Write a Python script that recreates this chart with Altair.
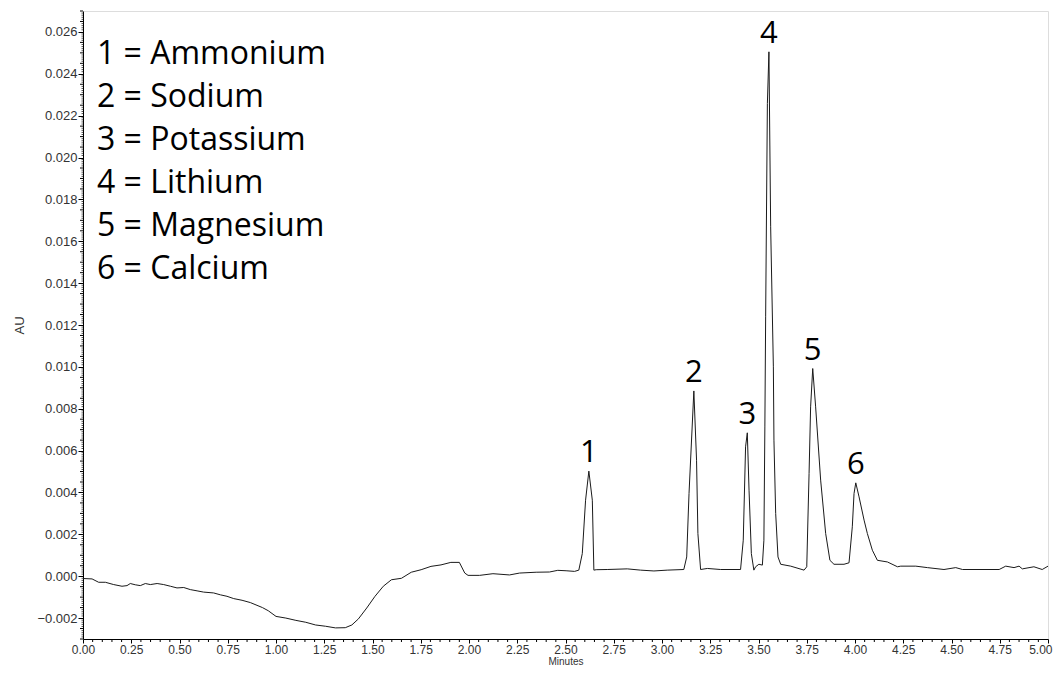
import altair as alt
import pandas as pd

# ---- chromatogram trace (minutes, AU) ----
time_min = [
    0.000, 0.047, 0.081, 0.116, 0.159, 0.202, 0.228, 0.245, 0.271, 0.297,
    0.323, 0.349, 0.384, 0.418, 0.453, 0.487, 0.522, 0.556, 0.591, 0.625,
    0.677, 0.712, 0.746, 0.781, 0.824, 0.867, 0.930, 0.960, 1.000, 1.051,
    1.103, 1.154, 1.205, 1.256, 1.308, 1.359, 1.393, 1.427, 1.470, 1.513,
    1.556, 1.598, 1.650, 1.701, 1.752, 1.803, 1.855, 1.906, 1.950, 1.978,
    1.995, 2.055, 2.124, 2.210, 2.262, 2.348, 2.417, 2.460, 2.503, 2.547,
    2.569, 2.587, 2.604, 2.621, 2.639, 2.647, 2.659, 2.716, 2.820, 2.889,
    2.958, 3.027, 3.113, 3.128, 3.140, 3.165, 3.179, 3.186, 3.200, 3.235,
    3.304, 3.407, 3.421, 3.433, 3.442, 3.451, 3.463, 3.476, 3.485, 3.502,
    3.520, 3.528, 3.533, 3.537, 3.546, 3.554, 3.563, 3.577, 3.580, 3.589,
    3.601, 3.615, 3.667, 3.736, 3.750, 3.762, 3.770, 3.781, 3.796, 3.822,
    3.848, 3.870, 3.891, 3.943, 3.969, 3.986, 3.995, 4.004, 4.021, 4.047,
    4.064, 4.090, 4.116, 4.168, 4.220, 4.237, 4.315, 4.375, 4.461, 4.522,
    4.557, 4.747, 4.781, 4.824, 4.850, 4.867, 4.927, 4.970, 5.000,
]
absorbance = [
    -0.00011, -0.00013, -0.00029, -0.00029, -0.00040, -0.00048, -0.00045, -0.00035, -0.00041, -0.00045,
    -0.00035, -0.00040, -0.00035, -0.00040, -0.00048, -0.00056, -0.00054, -0.00064, -0.00070, -0.00076,
    -0.00080, -0.00089, -0.00096, -0.00107, -0.00115, -0.00126, -0.00150, -0.00165, -0.00192, -0.00200,
    -0.00211, -0.00220, -0.00233, -0.00239, -0.00247, -0.00246, -0.00233, -0.00204, -0.00152, -0.00096,
    -0.00048, -0.00017, -0.00010, 0.00019, 0.00031, 0.00047, 0.00054, 0.00066, 0.00066, 0.00015,
    0.00004, 0.00004, 0.00012, 0.00006, 0.00015, 0.00019, 0.00020, 0.00028, 0.00026, 0.00023,
    0.00029, 0.00108, 0.00363, 0.00502, 0.00363, 0.00029, 0.00031, 0.00032, 0.00035, 0.00029,
    0.00025, 0.00029, 0.00032, 0.00092, 0.00395, 0.00885, 0.00554, 0.00204, 0.00032, 0.00037,
    0.00032, 0.00032, 0.00172, 0.00618, 0.00685, 0.00411, 0.00108, 0.00029, 0.00045, 0.00057,
    0.00053, 0.00172, 0.00713, 0.01239, 0.02258, 0.02505, 0.01669, 0.01000, 0.00650, 0.00300,
    0.00092, 0.00057, 0.00048, 0.00029, 0.00045, 0.00491, 0.00809, 0.00992, 0.00809, 0.00459,
    0.00204, 0.00076, 0.00057, 0.00057, 0.00064, 0.00236, 0.00395, 0.00446, 0.00379, 0.00268,
    0.00204, 0.00124, 0.00076, 0.00068, 0.00045, 0.00048, 0.00048, 0.00041, 0.00032, 0.00041,
    0.00032, 0.00032, 0.00048, 0.00041, 0.00048, 0.00035, 0.00045, 0.00032, 0.00048,
]

# ---- peaks ----
peak_ids = ["1", "2", "3", "4", "5", "6"]
peak_names = ["Ammonium", "Sodium", "Potassium", "Lithium", "Magnesium", "Calcium"]
peak_time = [2.621, 3.165, 3.442, 3.554, 3.781, 4.004]
peak_height = [0.00502, 0.00885, 0.00685, 0.02505, 0.00992, 0.00446]

# ---- axes ----
x_domain = [0.0, 5.0]
y_domain = [-0.003, 0.027]
x_major = [round(i * 0.25, 2) for i in range(0, 21)]
y_major = [round(-0.002 + i * 0.002, 3) for i in range(0, 15)]
x_minor = [round(i * 0.05, 2) for i in range(0, 101) if i % 5 != 0]
y_mid = [round(-0.003 + i * 0.0005, 4) for i in range(0, 61) if (i - 2) % 4 != 0]
y_small = [round(-0.003 + i * 0.0001, 4) for i in range(0, 301) if i % 5 != 0]

FONT = "Liberation Sans"
BIG_FONT = "Open Sans"
TXT = "#333333"

trace = pd.DataFrame({"t": time_min, "au": absorbance})
peaks = pd.DataFrame({"id": peak_ids, "t": peak_time, "au": peak_height})
legend_text = "\n".join(f"{i} = {n}" for i, n in zip(peak_ids, peak_names))
legend_df = pd.DataFrame({"txt": [legend_text]})
xminor_df = pd.DataFrame({"t": x_minor})
ymid_df = pd.DataFrame({"au": y_mid})
ysmall_df = pd.DataFrame({"au": y_small})

last_x = "datum.value >= 4.999"
x_axis = alt.Axis(
    title="Minutes",
    values=x_major,
    format=".2f",
    tickSize=4,
    labelOverlap=False,
    labelFlush=False,
    labelBound=False,
    labelAlign={"condition": {"test": last_x, "value": "right"}, "value": "center"},
    labelOffset={"condition": {"test": last_x, "value": 4}, "value": 0},
    labelFont=FONT, labelFontSize=12, labelColor=TXT, labelPadding=1,
    titleFont=FONT, titleFontSize=10, titleFontWeight="normal", titleColor=TXT,
    titleY=27, titleBaseline="bottom",
    domainColor="#000000", tickColor="#000000", grid=False,
)
y_axis = alt.Axis(
    title="AU",
    values=y_major,
    format=".3f",
    tickSize=5,
    labelOverlap=False,
    labelFlush=False,
    labelBound=False,
    labelFont=FONT, labelFontSize=13, labelColor=TXT, labelPadding=1,
    titleFont=FONT, titleFontSize=13, titleFontWeight="normal", titleColor=TXT,
    titlePadding=10,
    domainColor="#000000", tickColor="#000000", grid=False,
)

x_enc = alt.X("t:Q", scale=alt.Scale(domain=x_domain, nice=False, zero=False), axis=x_axis)
y_enc = alt.Y("au:Q", scale=alt.Scale(domain=y_domain, nice=False, zero=False), axis=y_axis)

H = 628

line = alt.Chart(trace).mark_line(color="#1a1a1a", strokeWidth=1, clip=True).encode(
    x=x_enc, y=y_enc, order="t:Q"
)

labels = alt.Chart(peaks).mark_text(
    font=BIG_FONT, fontSize=31, color="#000000", baseline="alphabetic", align="center", dy=-9
).encode(x=x_enc, y=y_enc, text="id:N")

legend = alt.Chart(legend_df).mark_text(
    font=BIG_FONT, fontSize=32, color="#000000", baseline="alphabetic", align="left",
    lineBreak="\n", lineHeight=43,
).encode(x=alt.value(14), y=alt.value(53), text="txt:N")

x_minor_ticks = alt.Chart(xminor_df).mark_rule(color="#000000", strokeWidth=1).encode(
    x=x_enc, y=alt.value(H), y2=alt.value(H + 3)
)
y_mid_ticks = alt.Chart(ymid_df).mark_rule(color="#000000", strokeWidth=1).encode(
    y=y_enc, x=alt.value(0), x2=alt.value(-3)
)
y_small_ticks = alt.Chart(ysmall_df).mark_rule(color="#555555", strokeWidth=1).encode(
    y=y_enc, x=alt.value(0), x2=alt.value(-1.5)
)

chart = (
    alt.layer(y_small_ticks, y_mid_ticks, x_minor_ticks, line, labels, legend)
    .properties(
        width=965,
        height=H,
        padding={"left": 75, "top": 3, "right": 5, "bottom": 27},
        autosize=alt.AutoSizeParams(type="none"),
    )
    .configure_view(stroke="#000000", strokeWidth=1)
    .configure(background="#ffffff")
)

chart.save("out.html", embed_options={"renderer": "svg", "actions": False})
